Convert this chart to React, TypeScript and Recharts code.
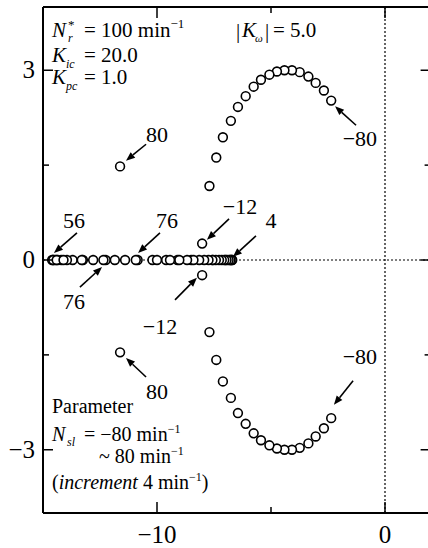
import { ScatterChart, Scatter, XAxis, YAxis, ReferenceLine, ReferenceDot, Customized } from 'recharts';

// Slip-speed parameter N_sl (min^-1), increment 4
const nslComplex = [-80, -76, -72, -68, -64, -60, -56, -52, -48, -44, -40, -36, -32, -28, -24, -20, -16, -12, 80];
const complexRe = [-2.36, -2.68, -3.04, -3.36, -3.74, -4.08, -4.41, -4.74, -5.07, -5.44, -5.76, -6.11, -6.45, -6.76, -7.11, -7.4, -7.7, -8.02, -11.62];
const complexImUpper = [2.52, 2.68, 2.8, 2.9, 2.97, 3.0, 3.0, 2.98, 2.93, 2.85, 2.74, 2.59, 2.42, 2.2, 1.94, 1.62, 1.17, 0.26, 1.48];
const complexImLower = [-2.5, -2.66, -2.79, -2.9, -2.97, -3.0, -3.0, -2.98, -2.93, -2.85, -2.74, -2.59, -2.42, -2.18, -1.92, -1.58, -1.14, -0.24, -1.46];

const nslReal = [-8, -4, 0, 4, 8, 12, 16, 20, 24, 28, 32, 36, 40, 44, 48, 52, 56, 60, 64, 68, 72, 76];
const realBranchLeft = [-8.5, -9.1, -9.6, -10.2, -10.85, -11.4, -11.85, -12.25, -12.8, -13.25, -13.7, -13.95, -14.2, -14.35, -14.45, -14.55, -14.6, -14.55, -14.4, -14.1, -13.3, -12.35];
const realBranchRight = [-7.55, -7.0, -6.78, -6.7, -6.72, -6.78, -6.86, -6.95, -7.05, -7.16, -7.28, -7.42, -7.57, -7.74, -7.93, -8.15, -8.4, -8.68, -9.02, -9.43, -10.0, -10.93];

const X_DOMAIN = [-15, 2];
const Y_DOMAIN = [-4, 4];
const xTicks = [-10, -5, 0];
const xLabelled = [-10, 0];
const yTicks = [-3, -1.5, 0, 1.5, 3];
const yLabelled = [-3, 0, 3];

// arrow callouts: tail -> head, text anchored at `at` (baseline)
const callouts = [
  { text: '\u221280', tail: [-1.27, 2.13], head: [-2.19, 2.43], at: [-1.1, 1.8] },
  { text: '\u221280', tail: [-1.4, -1.91], head: [-2.24, -2.29], at: [-1.1, -1.64] },
  { text: '80', tail: [-10.48, 1.83], head: [-11.36, 1.57], at: [-10.0, 1.87] },
  { text: '80', tail: [-10.48, -1.85], head: [-11.36, -1.55], at: [-10.0, -2.2] },
  { text: '56', tail: [-13.51, 0.43], head: [-14.52, 0.11], at: [-13.64, 0.51] },
  { text: '76', tail: [-9.87, 0.43], head: [-10.83, 0.11], at: [-9.56, 0.51] },
  { text: '\u221212', tail: [-6.84, 0.65], head: [-7.81, 0.32], at: [-6.36, 0.73] },
  { text: '4', tail: [-5.66, 0.38], head: [-6.67, 0.05], at: [-5.0, 0.51] },
  { text: '76', tail: [-13.38, -0.43], head: [-12.41, -0.11], at: [-13.64, -0.77] },
  { text: '\u221212', tail: [-9.21, -0.63], head: [-8.25, -0.28], at: [-9.87, -1.17] },
];

const upperArc = nslComplex.map((n, i) => ({ nsl: n, re: complexRe[i], im: complexImUpper[i] }));
const lowerArc = nslComplex.map((n, i) => ({ nsl: n, re: complexRe[i], im: complexImLower[i] }));
const leftBranch = nslReal.map((n, i) => ({ nsl: n, re: realBranchLeft[i], im: 0 }));
const rightBranch = nslReal.map((n, i) => ({ nsl: n, re: realBranchRight[i], im: 0 }));

const FONT = 'Liberation Serif';
const fmt = (v: number) => (v < 0 ? '\u2212' + Math.abs(v) : String(v));

const OpenCircle = (p: any) => (
  <circle cx={p.cx} cy={p.cy} r={4.4} fill="#fff" stroke="#000" strokeWidth={1.6} />
);

const Arrow = (p: any) => {
  const { x1, y1, x2, y2 } = p;
  const len = Math.hypot(x2 - x1, y2 - y1) || 1;
  const ux = (x2 - x1) / len;
  const uy = (y2 - y1) / len;
  const bx = x2 - ux * 9;
  const by = y2 - uy * 9;
  return (
    <g>
      <line x1={x1} y1={y1} x2={bx} y2={by} stroke="#000" strokeWidth={1.6} />
      <polygon
        points={`${x2},${y2} ${bx - uy * 3.6},${by + ux * 3.6} ${bx + uy * 3.6},${by - ux * 3.6}`}
        fill="#000"
      />
    </g>
  );
};

const Txt = (props: any) => (
  <text fontFamily={FONT} fill="#000" style={{ fontFamily: FONT }} {...props} />
);

const BottomTick = ({ x, y, payload }: any) => {
  const major = xLabelled.includes(payload.value);
  return (
    <g>
      <line x1={x} y1={y} x2={x} y2={y - (major ? 11 : 6)} stroke="#000" strokeWidth={1.5} />
      {major && (
        <Txt x={x} y={y + 30} textAnchor="middle" fontSize={25}>
          {fmt(payload.value)}
        </Txt>
      )}
    </g>
  );
};

// top frame ticks: the reference line spans the plot height, only its top end is drawn
const topTickShape = (major: boolean) => (p: any) => {
  const top = Math.min(p.y1, p.y2);
  return <line x1={p.x1} y1={top} x2={p.x1} y2={top + (major ? 11 : 6)} stroke="#000" strokeWidth={1.5} />;
};

const LeftTick = ({ x, y, payload }: any) => {
  const major = yLabelled.includes(payload.value);
  return (
    <g>
      <line x1={x} y1={y} x2={x + (major ? 10 : 6)} y2={y} stroke="#000" strokeWidth={1.5} />
      {major && (
        <Txt x={x - 8} y={y + 8} textAnchor="end" fontSize={25}>
          {fmt(payload.value)}
        </Txt>
      )}
    </g>
  );
};

const RightTick = ({ x, y, payload }: any) => {
  const major = yLabelled.includes(payload.value);
  return <line x1={x} y1={y} x2={x - (major ? 10 : 6)} y2={y} stroke="#000" strokeWidth={1.5} />;
};

// gain settings and parameter range, top-left / bottom-left corners
const Notes = () => (
  <g>
    <Txt fontSize={21}>
      <tspan x={52} y={37} fontStyle="italic">N</tspan>
      <tspan x={68} y={29} fontSize={13}>*</tspan>
      <tspan x={68} y={42} fontSize={12} fontStyle="italic">r</tspan>
      <tspan x={84} y={37}>= 100 min</tspan>
      <tspan dy={-9} fontSize={13}>{'\u22121'}</tspan>
    </Txt>
    <Txt fontSize={21}>
      <tspan x={52} y={62} fontStyle="italic">K</tspan>
      <tspan x={66} y={68} fontSize={12} fontStyle="italic">ic</tspan>
      <tspan x={84} y={62}>= 20.0</tspan>
    </Txt>
    <Txt fontSize={21}>
      <tspan x={52} y={84} fontStyle="italic">K</tspan>
      <tspan x={66} y={90} fontSize={12} fontStyle="italic">pc</tspan>
      <tspan x={84} y={84}>= 1.0</tspan>
    </Txt>
    <Txt fontSize={21}>
      <tspan x={236} y={38}>|</tspan>
      <tspan x={242} y={37} fontStyle="italic">K</tspan>
      <tspan x={255} y={42} fontSize={11} fontStyle="italic">{'\u03c9'}</tspan>
      <tspan x={265} y={38}>|</tspan>
      <tspan x={273} y={37}>= 5.0</tspan>
    </Txt>
    <Txt x={52} y={413} fontSize={20}>Parameter</Txt>
    <Txt fontSize={20}>
      <tspan x={52} y={441} fontStyle="italic">N</tspan>
      <tspan x={67} y={446} fontSize={12} fontStyle="italic">sl</tspan>
      <tspan x={84} y={441}>= {'\u221280'} min</tspan>
      <tspan dy={-8} fontSize={12}>{'\u22121'}</tspan>
    </Txt>
    <Txt fontSize={20}>
      <tspan x={99} y={463}>~ 80 min</tspan>
      <tspan dy={-8} fontSize={12}>{'\u22121'}</tspan>
    </Txt>
    <Txt fontSize={20}>
      <tspan x={52} y={489}>(</tspan>
      <tspan fontStyle="italic">increment</tspan>
      <tspan> 4 min</tspan>
      <tspan dy={-8} fontSize={12}>{'\u22121'}</tspan>
      <tspan dy={8}>)</tspan>
    </Txt>
  </g>
);

export default function App() {
  return (
    <div style={{ position: 'absolute', left: 0, top: 0, width: 428, height: 548, overflow: 'hidden', background: '#fff' }}>
      <ScatterChart width={440} height={548} margin={{ top: 7, right: 0, bottom: 0, left: 0 }}>
        <XAxis
          type="number"
          dataKey="re"
          domain={X_DOMAIN}
          ticks={xTicks}
          interval={0}
          allowDataOverflow
          height={35}
          tickSize={0}
          tickMargin={0}
          tickLine={false}
          axisLine={{ stroke: '#000', strokeWidth: 2 }}
          tick={(p: any) => <BottomTick {...p} />}
        />
        <YAxis
          type="number"
          dataKey="im"
          domain={Y_DOMAIN}
          ticks={yTicks}
          interval={0}
          allowDataOverflow
          width={43}
          tickSize={0}
          tickMargin={0}
          tickLine={false}
          axisLine={{ stroke: '#000', strokeWidth: 2 }}
          tick={(p: any) => <LeftTick {...p} />}
        />
        <YAxis
          yAxisId="right"
          orientation="right"
          type="number"
          domain={Y_DOMAIN}
          ticks={yTicks}
          interval={0}
          allowDataOverflow
          width={9.4}
          tickSize={0}
          tickMargin={0}
          tickLine={false}
          axisLine={{ stroke: '#000', strokeWidth: 2 }}
          tick={(p: any) => <RightTick {...p} />}
        />
        <ReferenceLine y={Y_DOMAIN[1]} stroke="#000" strokeWidth={2} ifOverflow="visible" />
        {xTicks.map((t) => (
          <ReferenceLine key={'tt' + t} x={t} ifOverflow="visible" shape={topTickShape(xLabelled.includes(t))} />
        ))}
        <ReferenceLine x={0} stroke="#000" strokeWidth={1.2} strokeDasharray="2 2" />
        <ReferenceLine y={0} stroke="#000" strokeWidth={1.2} strokeDasharray="2 2" />
        <Scatter data={upperArc} shape={OpenCircle} isAnimationActive={false} />
        <Scatter data={lowerArc} shape={OpenCircle} isAnimationActive={false} />
        <Scatter data={leftBranch} shape={OpenCircle} isAnimationActive={false} />
        <Scatter data={rightBranch} shape={OpenCircle} isAnimationActive={false} />
        {callouts.map((c, i) => (
          <ReferenceLine
            key={'a' + i}
            segment={[{ x: c.tail[0], y: c.tail[1] }, { x: c.head[0], y: c.head[1] }]}
            shape={Arrow}
          />
        ))}
        {callouts.map((c, i) => (
          <ReferenceDot
            key={'t' + i}
            x={c.at[0]}
            y={c.at[1]}
            shape={(p: any) => (
              <Txt x={p.cx} y={p.cy} textAnchor="middle" fontSize={22}>
                {c.text}
              </Txt>
            )}
          />
        ))}
        <Customized component={Notes} />
      </ScatterChart>
    </div>
  );
}
